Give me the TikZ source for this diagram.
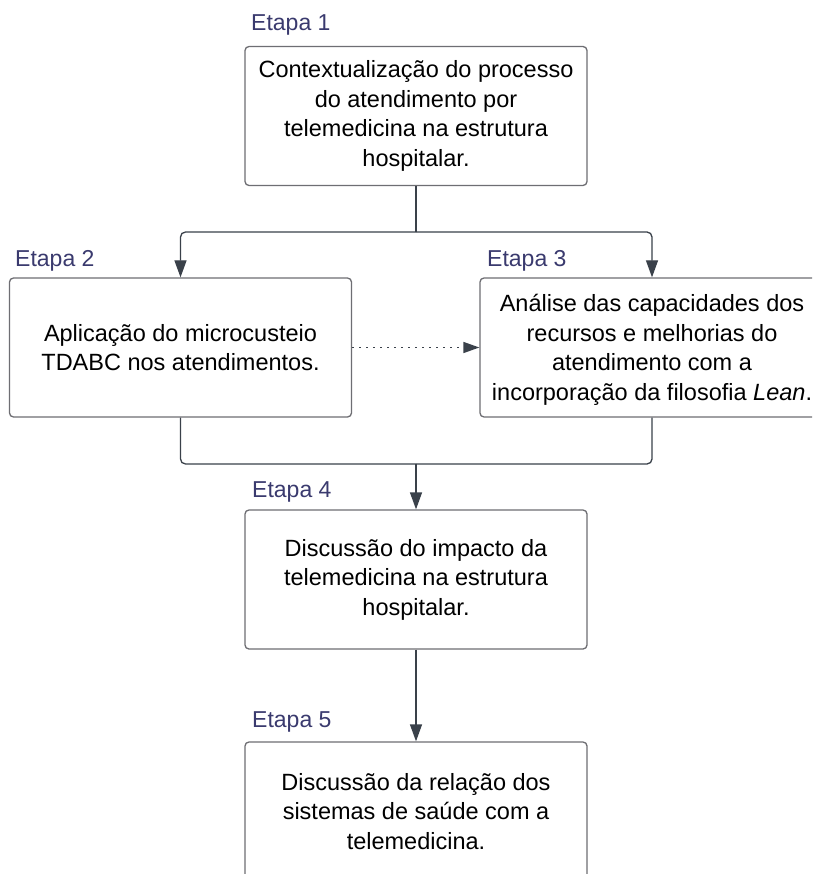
\documentclass[tikz,border=0pt]{standalone}
\usepackage{fontspec}
\setmainfont{Liberation Sans}
\usetikzlibrary{arrows.meta}
\definecolor{lbl}{RGB}{58,58,110}
\definecolor{lin}{RGB}{58,65,74}
\definecolor{bord}{RGB}{110,110,115}
\tikzset{
  stepbox/.style={draw=bord, line width=1.3pt, rounded corners=4pt, fill=white,
    minimum width=342pt, minimum height=139pt, inner sep=0pt, align=center,
    font=\fontsize{23.5}{29.5}\selectfont, text=black},
  stagelbl/.style={anchor=base west, inner sep=0pt, text=lbl, font=\fontsize{23}{28}\selectfont},
  conn/.style={draw=lin, line width=1.3pt},
  tip/.style={-{Triangle[length=17pt,width=12pt]}},
  dotconn/.style={draw=lin, line width=1.4pt, dash pattern=on 2pt off 5pt}
}
\begin{document}
\begin{tikzpicture}[x=1pt,y=-1pt]
\clip (0,0) rectangle (812,874);
\fill[white] (0,0) rectangle (812,874);
\node[stepbox] (b1) at (416,116) {Contextualização do processo\\do atendimento por\\telemedicina na estrutura\\hospitalar.};
\node[stepbox] (b2) at (180.5,347.5) {Aplicação do microcusteio\\TDABC nos atendimentos.};
\node[stepbox, minimum width=344pt, text depth=0pt] (b3) at (652,347.5) {Análise das capacidades dos\\recursos e melhorias do\\atendimento com a\\incorporação da filosofia \textit{Lean}.};
\node[stepbox] (b4) at (416,579.5) {Discussão do impacto da\\telemedicina na estrutura\\hospitalar.};
\node[stepbox] (b5) at (416,811.5) {Discussão da relação dos\\sistemas de saúde com a\\telemedicina.};
\node[stagelbl] (l1) at (251,31) {Etapa 1};
\node[stagelbl] (l2) at (15,267) {Etapa 2};
\node[stagelbl] (l3) at (487,267) {Etapa 3};
\node[stagelbl] (l4) at (252,497) {Etapa 4};
\node[stagelbl] (l5) at (252,727) {Etapa 5};
\coordinate (j1) at (416,232);
\coordinate (j2) at (416,464);
\draw[conn] (b1.south) -- (j1);
\draw[conn, tip, rounded corners=5pt] (j1) -| (b2.north);
\draw[conn, tip, rounded corners=5pt] (j1) -| (b3.north);
\draw[conn, rounded corners=5pt] (b2.south) |- (j2);
\draw[conn, rounded corners=5pt] (b3.south) |- (j2);
\draw[conn, tip] (j2) -- (b4.north);
\draw[conn, tip] (b4.south) -- (b5.north);
\draw[dotconn, -{Triangle[length=16pt,width=11pt]}] (b2.east) -- (b3.west);
\end{tikzpicture}
\end{document}
